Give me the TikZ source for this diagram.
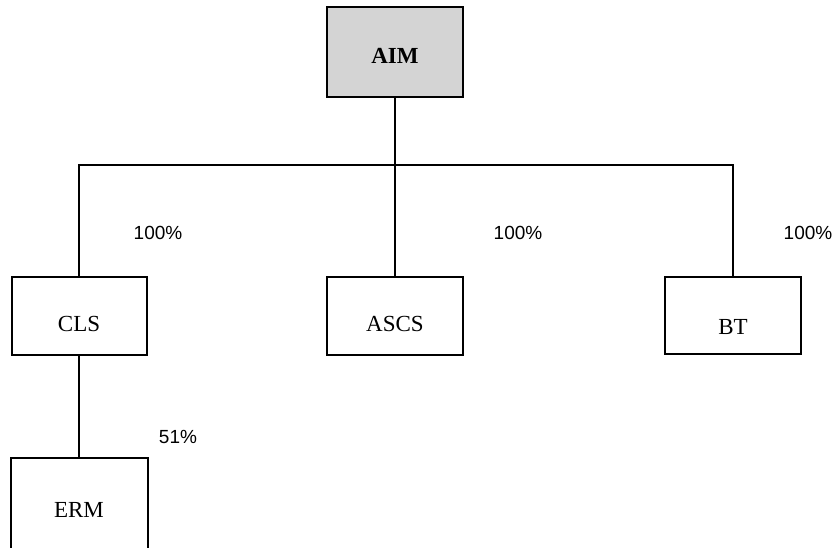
\documentclass[tikz,border=0pt]{standalone}
\usepackage{fontspec}
\setmainfont{Liberation Serif}
\newfontfamily\pctfont{Liberation Sans}
\begin{document}
\begin{tikzpicture}[x=1pt,y=-1pt,
  boxfont/.style={font=\fontsize{23}{26}\selectfont, inner sep=0pt},
  box/.style={draw=black, line width=2pt, rectangle, inner sep=0pt},
  conn/.style={draw=black, line width=1.9pt},
  pct/.style={font=\pctfont\fontsize{19}{22}\selectfont, inner sep=0pt}]
\useasboundingbox (0,0) rectangle (835,547);
\clip (0,0) rectangle (835,547);
\fill[white] (0,0) rectangle (835,547);
\node[box, fill={rgb,255:red,212;green,212;blue,212}, minimum width=136pt, minimum height=90pt] (aim) at (395,52) {};
\node[box, minimum width=135pt, minimum height=78pt] (cls) at (79,316) {};
\node[box, minimum width=136pt, minimum height=78pt] (ascs) at (395,316) {};
\node[box, minimum width=136pt, minimum height=77pt] (bt) at (733,315.5) {};
\node[box, minimum width=137pt, minimum height=110pt] (erm) at (79,513) {};
\node[boxfont, font=\fontsize{23}{26}\selectfont\bfseries] (aimt) at (395,56) {AIM};
\node[boxfont] (clst) at (79,324) {CLS};
\node[boxfont] (ascst) at (395,324) {ASCS};
\node[boxfont] (btt) at (733,327) {BT};
\node[boxfont] (ermt) at (79,510) {ERM};
\coordinate (bar) at (0,165);
\draw[conn] (aim.south) -- (ascs.north);
\draw[conn, line join=miter] (cls.north) -- (cls.north |- bar) -- (bt.north |- bar) -- (bt.north);
\draw[conn] (cls.south) -- (erm.north);
\node[pct] (p1) at (158,233) {100\%};
\node[pct] (p2) at (518,233) {100\%};
\node[pct] (p3) at (808,233) {100\%};
\node[pct] (p4) at (178,437) {51\%};
\end{tikzpicture}
\end{document}
